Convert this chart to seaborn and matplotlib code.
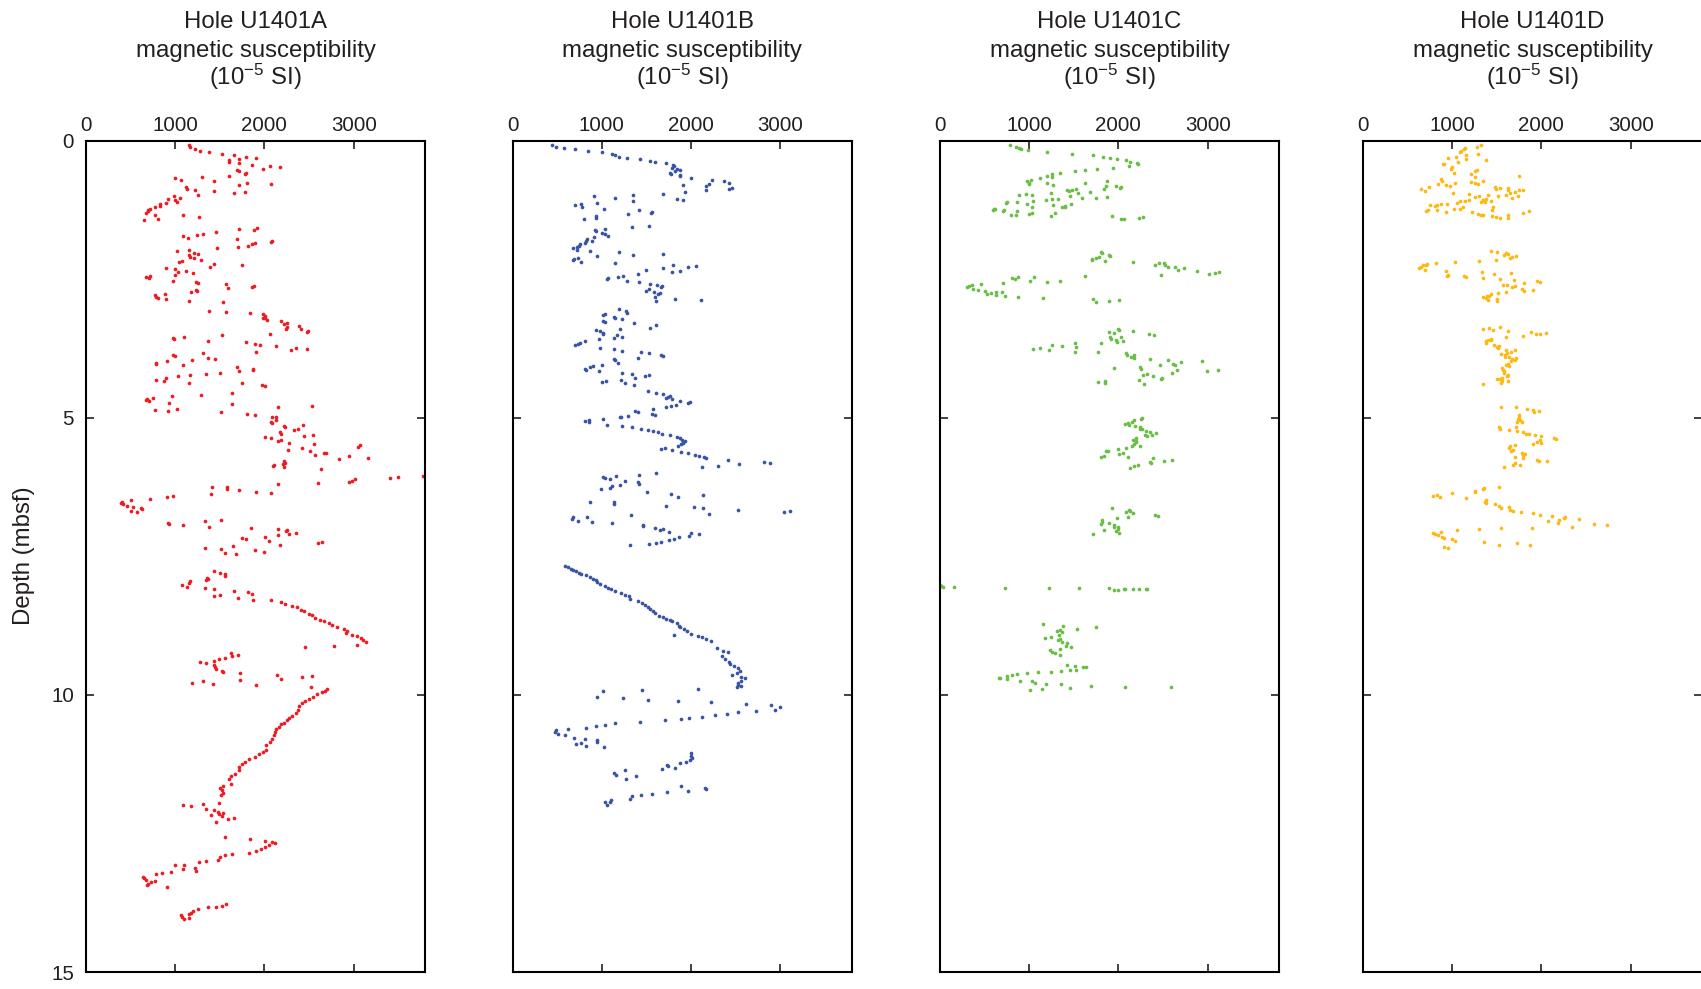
import matplotlib
matplotlib.use("Agg")
import matplotlib.pyplot as plt
import seaborn as sns
import pandas as pd

holes = ["U1401A", "U1401B", "U1401C", "U1401D"]
colors = ["#ED1C24", "#3A54A4", "#6ABD45", "#FDB913"]
xticks = [0, 1000, 2000, 3000]
yticks = [0, 5, 10, 15]
title_lines = ["Hole HOLE", "magnetic susceptibility", "(10$^{-5}$ SI)"]

# (magnetic susceptibility [1e-5 SI], depth [mbsf])
hole_a = [
    (1150,0.08),(1170,0.11),(1220,0.15),(1280,0.18),(1380,0.20),(1520,0.23),(1660,0.25),(1790,0.28),(1900,0.30),
    (1600,0.35),(1600,0.38),(1720,0.33),(1720,0.40),(1860,0.43),(2060,0.45),(2180,0.47),(1980,0.50),(1690,0.53),
    (1710,0.55),(1790,0.58),(1780,0.60),(1600,0.63),(1300,0.65),(1000,0.67),(1060,0.70),(1440,0.73),(1720,0.79),
    (1810,0.75),(2070,0.77),(1120,0.83),(1130,0.86),(1220,0.88),(1440,0.90),(1660,0.94),(1780,0.92),(1260,0.98),
    (1050,1.02),(990,1.00),(920,1.04),(1000,1.07),(1020,1.10),(900,1.12),(830,1.14),(825,1.17),(770,1.20),
    (720,1.23),(700,1.25),(690,1.27),(670,1.30),(770,1.33),(1090,1.34),(1270,1.37),(810,1.40),(650,1.42),
    (1720,1.59),(1920,1.57),(1880,1.61),(1460,1.64),(1310,1.67),(1240,1.69),(1090,1.72),(1140,1.75),(1690,1.77),
    (2080,1.80),(2070,1.82),(1890,1.84),(1860,1.86),(1820,1.89),(1700,1.92),(1470,1.94),(1020,1.99),(1150,1.96),
    (1210,2.02),(1250,2.04),(1160,2.06),(1170,2.09),(1210,2.11),(1290,2.14),(1080,2.16),(1040,2.19),(1440,2.22),
    (1390,2.27),(1750,2.24),(900,2.29),(1000,2.31),(1030,2.37),(1120,2.34),(1200,2.39),(1000,2.42),(720,2.43),
    (710,2.48),(670,2.46),(970,2.52),(1230,2.54),(1260,2.56),(1570,2.58),(1590,2.66),(1880,2.61),(1860,2.63),
    (1230,2.69),(1240,2.71),(1180,2.73),(890,2.76),(770,2.78),(790,2.81),(810,2.84),(900,2.86),(1150,2.89),(1540,2.91),
    (1380,3.06),(1570,3.09),(1840,3.11),(1980,3.13),(2010,3.16),(1980,3.19),(2010,3.20),(2030,3.23),(2190,3.25),
    (2220,3.30),(2250,3.28),(2250,3.36),(2240,3.39),(2390,3.34),(2410,3.40),(2490,3.43),(2480,3.45),(2060,3.48),
    (1520,3.51),(1100,3.54),(970,3.55),(990,3.58),(1370,3.61),(1790,3.63),(1890,3.66),(1950,3.68),(2130,3.70),
    (2350,3.73),(2300,3.78),(2480,3.76),(1900,3.80),(1310,3.83),(970,3.86),(1000,3.88),(1370,3.91),(1450,3.93),
    (1190,3.96),(910,3.98),(790,4.01),(790,4.03),(1090,4.05),(1690,4.08),(1720,4.16),(1870,4.11),(1870,4.13),
    (1500,4.18),(1350,4.20),(1030,4.25),(1170,4.23),(900,4.28),(780,4.31),(870,4.33),(1150,4.36),(1750,4.37),
    (1970,4.40),(2010,4.43),(1640,4.55),(1290,4.58),(960,4.60),(750,4.63),(680,4.65),(670,4.67),(710,4.70),
    (930,4.73),(1640,4.75),(1020,4.83),(770,4.85),(920,4.88),(1510,4.90),(1800,4.92),(1890,4.95),
    (2150,4.80),(2530,4.78),(2080,4.98),(2130,4.99),(2130,5.03),(2070,5.07),(2080,5.09),(2220,5.14),(2230,5.17),
    (2330,5.22),(2380,5.20),(2430,5.13),(2170,5.25),(2190,5.28),(2440,5.32),(2550,5.30),(2010,5.34),(2070,5.37),
    (2190,5.40),(2150,5.42),(2270,5.45),(2560,5.47),(2420,5.55),(2260,5.57),(2510,5.60),(2670,5.63),(2690,5.64),
    (2570,5.67),(2840,5.74),(2950,5.69),(3050,5.52),(3070,5.49),(3160,5.72),(2220,5.77),(2230,5.81),(2210,5.83),
    (2110,5.84),(2100,5.87),(2220,5.89),(2630,5.92),(2600,6.17),(2950,6.15),(2980,6.13),(3010,6.11),(3410,6.08),
    (3500,6.06),(3780,6.04),(2150,6.20),(1410,6.25),(1580,6.24),(1580,6.28),(1710,6.30),(1900,6.33),(2070,6.36),
    (1400,6.38),(970,6.41),(910,6.43),(720,6.46),(500,6.48),(400,6.51),(390,6.53),(410,6.55),(460,6.58),(530,6.60),
    (620,6.63),(630,6.65),(510,6.67),(570,6.70),(920,6.89),(930,6.92),(1090,6.93),(1330,6.86),(1380,6.97),
    (1510,6.84),(1850,6.99),(2150,7.01),(2250,7.02),
    (2240,7.04),(2280,7.09),(2350,7.07),(2150,7.11),(2010,7.14),(2050,7.22),(1750,7.16),(1790,7.19),(2180,7.29),
    (2600,7.26),(2640,7.24),(1330,7.34),(1510,7.37),(1560,7.43),(1650,7.31),(1680,7.46),(1890,7.39),(2000,7.41),
    (1440,7.77),(1500,7.79),(1560,7.82),(1560,7.85),(1360,7.88),(1370,7.91),(1350,7.93),(1170,7.95),(1160,7.97),
    (1080,8.02),(1130,8.05),(1330,8.07),(1440,8.09),(1430,8.22),(1500,8.20),(1660,8.12),(1820,8.14),(1860,8.17),
    (1700,8.25),(1870,8.28),(2070,8.29),(2190,8.32),(2230,8.36),(2310,8.40),(2370,8.42),(2410,8.46),(2440,8.49),
    (2500,8.53),(2530,8.56),(2570,8.61),(2620,8.64),(2670,8.67),(2720,8.70),(2760,8.74),(2810,8.77),(2890,8.81),
    (2930,8.85),(2980,8.91),(3040,8.94),(3080,8.97),(3110,9.01),(3140,9.05),(2910,8.88),(2460,9.13),(2780,9.11),
    (3040,9.09),
    (1280,9.41),(1340,9.43),(1430,9.38),(1490,9.35),(1560,9.33),(1630,9.25),(1640,9.30),(1700,9.28),(1430,9.45),
    (1450,9.50),(1460,9.53),(1530,9.56),(1540,9.58),(1730,9.60),(1730,9.73),(1190,9.78),(1310,9.75),(1420,9.80),
    (1910,9.82),(2140,9.63),(2190,9.71),(2420,9.68),(2530,9.65),(2520,9.85),
    (2700,9.89),(2680,9.92),(2640,9.95),(2590,9.99),(2550,10.03),(2500,10.07),(2450,10.11),(2420,10.15),(2390,10.20),
    (2380,10.27),(2350,10.32),(2310,10.38),(2270,10.41),(2250,10.46),(2220,10.50),(2190,10.53),(2160,10.58),
    (2130,10.62),(2120,10.67),(2110,10.73),(2090,10.80),(2060,10.85),(2020,10.91),(2020,10.99),(1980,11.02),
    (1940,11.06),(1890,11.12),(1830,11.16),(1780,11.21),(1750,11.24),(1720,11.30),(1710,11.36),(1670,11.43),
    (1630,11.47),(1600,11.51),(1620,11.60),(1540,11.65),(1500,11.68),(1520,11.72),(1540,11.76),(1510,11.80),
    (1090,11.99),(1180,12.01),(1310,11.97),(1350,12.05),(1400,12.16),(1430,12.08),(1490,11.95),(1480,12.11),
    (1490,12.15),(1540,12.13),(1460,12.30),(1530,12.19),(1590,12.24),(1660,12.22),
    (1560,12.57),(1840,12.60),(2010,12.63),(2090,12.66),(2120,12.67),(2050,12.71),(2010,12.75),(1960,12.78),
    (1900,12.82),(1830,12.85),(1640,12.87),(1560,12.89),(1500,12.93),(1480,12.97),(1350,12.99),(1270,13.02),
    (1220,13.13),(1230,13.17),(1100,13.06),(1090,13.14),(1000,13.07),(950,13.19),(850,13.22),(780,13.24),
    (770,13.35),(730,13.38),(700,13.41),(680,13.43),(670,13.34),(640,13.29),(650,13.31),(910,13.46),
    (1570,13.78),(1530,13.80),(1460,13.82),(1370,13.83),(1260,13.86),(1200,13.90),(1180,13.93),(1160,13.95),
    (1150,14.03),(1100,14.05),(1070,13.98),(1080,14.00),
]

hole_b = [
    (440,0.08),(490,0.10),(580,0.13),(700,0.15),(840,0.18),(1000,0.20),(1110,0.23),(1150,0.25),(1190,0.28),
    (1280,0.30),(1430,0.33),(1540,0.36),(1600,0.38),(1720,0.40),(1800,0.43),(1810,0.45),(1790,0.48),(1840,0.50),
    (1880,0.52),(1820,0.55),(1760,0.57),(1780,0.60),(1870,0.62),(1880,0.64),(2000,0.67),(1910,0.80),(1930,0.92),
    (1910,1.07),(1840,1.04),(1690,0.95),(2170,0.82),(2170,0.89),(2200,0.77),(2230,0.70),(2370,0.72),(2430,0.75),
    (2420,0.87),(2460,0.85),
    (910,0.99),(1150,1.02),(1350,0.97),(1350,1.09),(700,1.16),(760,1.13),(780,1.19),(940,1.12),(1020,1.22),
    (1290,1.31),(1420,1.24),(1560,1.28),(1550,1.30),(800,1.41),(930,1.36),(930,1.39),(1340,1.56),(1530,1.54),
    (920,1.61),(930,1.63),(1000,1.66),(1040,1.58),(1040,1.68),(1070,1.72),(910,1.73),(830,1.77),(820,1.80),
    (890,1.81),(810,1.84),(750,1.86),(740,1.89),(720,1.92),(680,1.93),(720,1.96),(870,1.98),(1190,2.01),
    (950,2.08),(1350,2.05),(1690,2.04),(690,2.13),(680,2.15),(730,2.11),(760,2.18),(1150,2.20),(1490,2.33),
    (1690,2.30),(1800,2.23),(1790,2.37),(1870,2.35),(1970,2.27),(2060,2.25),(1400,2.40),(1240,2.43),(1180,2.45),
    (1070,2.48),(1060,2.50),(1280,2.52),(1420,2.55),(1540,2.58),(1620,2.60),(1670,2.62),(1660,2.64),(1530,2.67),
    (1490,2.70),(1580,2.72),(1650,2.75),(1630,2.77),(1600,2.82),(1610,2.89),(1820,2.85),(2110,2.87),
    (1190,3.04),(1270,3.07),(1280,3.10),(1030,3.12),(1010,3.14),(1140,3.17),(1150,3.20),(1230,3.22),(1010,3.25),
    (1030,3.27),(1360,3.29),(1610,3.32),(1540,3.37),(1200,3.39),(930,3.41),(980,3.43),(1010,3.47),(1010,3.49),
    (1170,3.51),(1140,3.56),(1220,3.54),(970,3.58),(810,3.61),(750,3.64),(730,3.66),(700,3.69),(980,3.73),
    (1130,3.76),(1220,3.79),(1440,3.81),(1530,3.83),(1660,3.86),(1680,3.88),(1400,3.91),(1130,3.93),(1150,3.96),
    (1180,4.00),(900,4.06),(870,4.08),(810,4.11),(820,4.13),(1000,4.04),(970,4.16),(1220,4.18),(1340,4.21),
    (1370,4.28),(1480,4.25),(1530,4.23),(1000,4.35),(1050,4.33),(1210,4.31),(1260,4.37),(1360,4.40),(1520,4.52),
    (1610,4.55),(1690,4.57),(1760,4.60),(1740,4.62),(1720,4.64),(1790,4.66),(1880,4.70),(1970,4.73),(1990,4.72),
    (1830,4.76),(1780,4.78),(1720,4.81),(1570,4.84),(1370,4.87),(1410,4.89),(1560,4.92),(1590,4.95),(1200,4.98),
    (1290,4.96),
    (810,5.06),(850,5.08),(860,5.04),(1010,5.01),(1060,5.12),(1210,4.99),(1230,5.14),(1340,5.16),(1440,5.19),
    (1520,5.21),(1570,5.23),(1630,5.26),(1670,5.28),(1760,5.31),(1840,5.34),(1880,5.36),(1900,5.39),(1930,5.41),
    (1910,5.45),(1890,5.47),(1850,5.51),(1710,5.54),(1660,5.56),(1790,5.58),(1890,5.61),(1970,5.64),(2040,5.66),
    (2090,5.68),(2140,5.70),(2170,5.73),(2120,5.89),(2300,5.86),(2410,5.76),(2540,5.83),(2820,5.79),(2880,5.81),
    (1010,6.07),(1040,6.09),(1090,6.11),(1160,6.04),(1420,6.02),(1610,5.99),(1260,6.14),(1200,6.21),(1420,6.19),
    (1400,6.16),(1090,6.26),(1110,6.23),(990,6.28),(1500,6.34),(1780,6.37),(1850,6.42),(2130,6.39),
    (870,6.51),(1140,6.51),(1140,6.56),(1720,6.59),(2030,6.60),(2130,6.63),(2200,6.73),(2520,6.66),(3040,6.70),
    (3110,6.68),(670,6.82),(680,6.79),(730,6.86),(830,6.78),(890,6.88),(1110,6.90),(1330,6.75),(1460,6.93),
    (1460,6.95),(1590,6.98),(1650,7.03),(1690,7.01),(1750,7.05),(1320,7.30),(1530,7.28),(1610,7.25),(1660,7.23),
    (1750,7.20),(1810,7.18),(1860,7.15),(1980,7.13),(2000,7.08),(2090,7.10),
    (590,7.67),(620,7.69),(650,7.72),(680,7.74),(710,7.77),(740,7.79),(770,7.81),(820,7.84),(870,7.87),(900,7.90),
    (930,7.93),(950,7.96),(980,7.99),(1040,8.04),(1070,8.07),(1100,8.09),(1150,8.12),(1210,8.16),(1260,8.19),
    (1300,8.22),(1320,8.27),(1400,8.31),(1450,8.34),(1480,8.37),(1520,8.42),(1540,8.45),(1570,8.49),(1600,8.52),
    (1640,8.57),(1680,8.60),(1720,8.62),(1760,8.65),(1790,8.67),(1840,8.70),(1860,8.75),(1880,8.78),(1920,8.81),
    (1950,8.85),(2000,8.89),(2080,8.94),(2120,8.96),(2170,8.99),(2220,9.03),(2290,9.16),(2360,9.20),(2410,9.23),
    (2350,9.29),(2380,9.35),(2420,9.41),(2440,9.44),(2480,9.48),(2530,9.52),(2550,9.56),(2510,9.61),(2460,9.63),
    (2560,9.68),(2600,9.70),(2560,9.74),(2530,9.78),(2520,9.82),(2510,9.86),(2560,9.84),(1810,8.92),
    (940,10.04),(1010,9.93),(1240,10.05),(1450,9.91),(1520,10.09),(1850,10.11),(2080,9.89),(2220,10.13),
    (2610,10.16),(2890,10.18),(2940,10.27),(3000,10.22),(2730,10.29),(2530,10.31),(2400,10.34),(2270,10.36),
    (2120,10.39),(1980,10.41),(1890,10.43),(1710,10.46),(1430,10.49),(1150,10.51),(1030,10.54),(930,10.56),
    (820,10.59),(620,10.61),(490,10.64),(470,10.67),(510,10.71),(590,10.73),(690,10.77),(710,10.89),(760,10.87),
    (810,10.79),(820,10.92),(940,10.81),(950,10.84),(1020,10.94),
    (2000,11.05),(2000,11.10),(2010,11.14),(1990,11.17),(1940,11.21),(1870,11.23),(1820,11.31),(1730,11.26),
    (1740,11.29),(1670,11.34),(1380,11.46),(1260,11.36),(1270,11.51),(1160,11.44),(1130,11.40),(2160,11.68),
    (2170,11.70),(1970,11.73),(1890,11.65),(1730,11.75),(1560,11.78),(1440,11.81),(1340,11.83),(1310,11.87),
    (1100,11.90),(1090,11.94),(1060,11.99),(1040,11.94),
]

hole_c = [
    (790,0.08),(850,0.10),(890,0.13),(910,0.15),(990,0.17),(1200,0.20),(1480,0.23),(1720,0.25),(1830,0.28),
    (1900,0.30),(1980,0.33),(2080,0.35),(2130,0.38),(2210,0.40),(2220,0.42),(2120,0.46),(1940,0.48),(1760,0.50),
    (1620,0.53),(1510,0.55),(1350,0.58),(1250,0.60),(1250,0.65),(1200,0.63),(1120,0.67),(1020,0.70),(970,0.72),
    (1000,0.76),(1000,0.78),(1200,0.76),(1270,0.80),(1630,0.75),(1870,0.73),(1860,0.81),(1970,0.82),(2020,0.84),
    (2030,0.83),(1840,0.86),(1420,0.88),(1450,0.90),(1480,0.89),(1520,0.87),(1550,0.93),(1680,0.92),(1240,0.94),
    (880,0.97),(960,0.96),(1030,0.98),(1460,0.99),(1590,1.03),(1750,1.02),(1870,1.01),(1040,1.08),(1190,1.07),
    (1260,1.05),(1320,1.04),(860,1.10),(750,1.11),(740,1.12),(970,1.13),(1270,1.16),(1370,1.19),(1400,1.17),
    (1470,1.14),(1400,1.19),(1030,1.20),(600,1.23),(590,1.24),(620,1.23),(720,1.24),(710,1.27),(860,1.27),
    (1030,1.30),(1000,1.31),(800,1.33),(850,1.34),(1240,1.35),(1290,1.30),(1930,1.36),(2030,1.40),(2060,1.41),
    (2230,1.39),(2270,1.37),
    (1810,2.01),(1820,2.03),(1780,2.09),(1750,2.11),(1700,2.14),(1850,2.16),(1890,2.05),(1910,2.07),(1700,2.13),
    (2160,2.19),(2410,2.23),(2450,2.21),(2510,2.20),(2520,2.23),(2560,2.27),(2630,2.28),(2670,2.32),(2730,2.30),
    (2480,2.41),(2880,2.35),(3010,2.40),(3080,2.39),(3130,2.36),(1630,2.43),(1340,2.53),(1200,2.55),(1050,2.45),
    (1010,2.52),(870,2.46),(810,2.48),(840,2.49),(710,2.57),(460,2.58),(360,2.60),(320,2.61),(300,2.63),(370,2.67),
    (430,2.69),(510,2.70),(570,2.74),(530,2.77),(630,2.72),(630,2.78),(700,2.73),(730,2.80),(870,2.81),(1150,2.83),
    (1710,2.85),(1750,2.90),(1890,2.88),(2010,2.87),
    (2000,3.39),(2010,3.41),(1890,3.45),(1950,3.47),(2160,3.43),(2340,3.49),(2400,3.51),(1910,3.54),(1920,3.57),
    (1970,3.60),(1980,3.63),(2030,3.54),(2050,3.61),(1800,3.64),(1770,3.81),(1510,3.65),(1520,3.71),(1510,3.80),
    (1370,3.70),(1250,3.68),(1220,3.77),(1120,3.73),(1040,3.75),(2090,3.83),(2100,3.86),(2140,3.89),(2170,3.86),
    (2170,3.92),(2350,3.93),(1950,4.09),(2240,4.08),(2250,4.11),(2560,3.96),(2610,4.03),(2630,4.04),(2700,3.99),
    (2470,4.05),(2940,3.97),(2990,4.16),(3120,4.14),(2660,4.13),(2600,4.19),(2490,4.27),(2480,4.29),(2390,4.24),
    (2320,4.20),(2280,4.22),(2230,4.31),(2290,4.39),(1770,4.35),(1850,4.37),(1850,4.34),
    (2260,5.00),(2250,5.02),(2170,5.04),(2150,5.07),(2110,5.09),(2070,5.11),(2120,5.13),(2190,5.15),(2240,5.17),
    (2260,5.20),(2240,5.19),(2310,5.23),(2350,5.26),(2380,5.30),(2420,5.27),(2300,5.31),(2320,5.33),(2200,5.36),
    (2160,5.39),(2200,5.41),(2200,5.44),(2170,5.47),(2150,5.50),(2240,5.51),(2080,5.54),(2000,5.56),(2010,5.65),
    (2050,5.63),(1880,5.60),(1860,5.59),(1840,5.68),(1800,5.70),(2110,5.71),(2390,5.73),(2350,5.80),(2360,5.82),
    (2510,5.78),(2600,5.76),(2220,5.84),(2170,5.87),(2130,5.90),
    (1930,6.63),(2080,6.70),(2120,6.66),(2130,6.67),(2160,6.72),(2110,6.79),(2410,6.75),(2440,6.76),(1820,6.85),
    (1820,6.87),(1810,6.91),(1890,6.89),(1980,6.81),(1950,6.94),(1950,6.97),(2000,6.96),(1990,7.00),(1970,7.04),
    (2010,7.07),(1840,7.02),(1710,7.09),
    (0,8.02),(10,8.04),(30,8.05),(160,8.05),(730,8.06),(1220,8.06),(1560,8.07),(1890,8.07),(1950,8.10),
    (1990,8.10),(2060,8.09),(2070,8.08),(2160,8.08),(2230,8.08),(2310,8.08),(2320,8.08),
    (1160,8.72),(1380,8.75),(1540,8.80),(1750,8.77),(1310,8.84),(1350,8.82),(1370,8.87),(1330,8.92),(1320,9.01),
    (1340,8.99),(1180,8.97),(1240,8.95),(1370,9.05),(1420,9.07),(1410,9.12),(1470,9.14),(1340,9.17),(1230,9.19),
    (1250,9.23),(1290,9.25),(1340,9.28),(1420,9.45),(1510,9.47),(1530,9.54),(1600,9.50),(1640,9.50),(1460,9.55),
    (1360,9.57),(1240,9.58),(1100,9.59),(970,9.61),(860,9.62),(810,9.64),(750,9.66),(670,9.69),(660,9.70),
    (750,9.72),(900,9.74),(1030,9.75),(1070,9.78),(1190,9.80),(1360,9.81),(1460,9.87),(1690,9.83),(2070,9.86),
    (2590,9.85),(1010,9.91),(1140,9.89),
]

hole_d = [
    (1280,0.10),(1320,0.08),(1140,0.12),(1130,0.15),(1100,0.18),(1090,0.20),(1040,0.28),(1150,0.25),(1290,0.23),
    (950,0.31),(1160,0.33),(1380,0.35),(1060,0.38),(900,0.41),(910,0.42),(1000,0.47),(990,0.50),(1020,0.58),
    (1280,0.53),(1250,0.55),(1210,0.60),(1250,0.65),(1750,0.63),(870,0.68),(880,0.72),(840,0.77),(930,0.79),
    (980,0.81),(1030,0.75),(1210,0.74),(1260,0.76),(1290,0.78),(1350,0.73),(740,0.83),(650,0.87),(690,0.90),
    (1010,0.93),(1190,0.95),(1250,1.01),(1300,1.00),(1350,1.07),(1380,1.04),(1400,0.98),(1480,0.83),(1490,0.86),
    (1540,0.84),(1600,0.98),(1630,0.84),(1620,0.88),(1650,0.93),(1700,0.92),(1750,0.89),(1790,0.89),(1670,1.03),
    (1740,1.00),(750,1.16),(810,1.18),(830,1.16),(870,1.13),(940,1.13),(1050,1.12),(1090,1.08),(1140,1.09),
    (1190,1.06),(1320,1.10),(1340,1.06),(1370,1.10),(1440,1.09),(1510,1.00),(730,1.25),(710,1.27),(830,1.24),
    (930,1.28),(1020,1.23),(1090,1.23),(1120,1.19),(1220,1.28),(1290,1.31),(1320,1.33),(1350,1.34),(1450,1.36),
    (1490,1.37),(1540,1.39),(1450,1.25),(1460,1.20),(1620,1.33),(1620,1.39),(1790,1.30),(1860,1.27),
    (1440,1.98),(1500,2.00),(1580,2.05),(1600,2.02),(1630,2.04),(1650,2.11),(1670,2.10),(1710,2.08),(1490,2.15),
    (1300,2.16),(1030,2.18),(820,2.20),(650,2.28),(630,2.30),(670,2.24),(690,2.33),(710,2.23),(720,2.22),
    (930,2.34),(950,2.41),(940,2.43),(1130,2.43),(1160,2.46),(1330,2.36),(1340,2.48),(1470,2.40),(1540,2.49),
    (1660,2.38),(1690,2.51),(1570,2.60),(1610,2.60),(1600,2.73),(1510,2.75),(1430,2.76),(1410,2.79),(1390,2.80),
    (1340,2.82),(1400,2.87),(1380,2.83),(1500,2.86),(1500,2.88),(1670,2.64),(1700,2.62),(1800,2.57),(1780,2.67),
    (1810,2.71),(1900,2.69),(1950,2.52),(1980,2.55),
    (1350,3.40),(1410,3.37),(1460,3.42),(1540,3.36),(1630,3.43),(1600,3.54),(1790,3.52),(1880,3.45),(1940,3.49),
    (1980,3.48),(2050,3.46),(1380,3.61),(1380,3.64),(1400,3.59),(1430,3.57),(1440,3.60),(1470,3.69),(1500,3.71),
    (1510,3.73),(1520,3.70),(1550,3.84),(1590,3.86),(1610,3.83),(1600,3.78),(1660,3.80),(1700,3.78),(1590,3.89),
    (1640,3.90),(1670,3.93),(1660,3.98),(1700,3.96),(1710,3.92),(1630,4.02),(1600,4.05),(1640,4.06),(1560,4.10),
    (1570,4.13),(1580,4.16),(1580,4.19),(1630,4.22),(1610,4.25),(1560,4.27),(1540,4.30),(1500,4.30),(1560,4.34),
    (1550,4.36),(1630,4.34),(1340,4.39),
    (1550,4.80),(1720,4.81),(1840,4.83),(1900,4.86),(1920,4.89),(1970,4.87),(1750,4.94),(1750,4.98),(1740,5.01),
    (1760,5.04),(1780,5.07),(1730,5.07),(1710,5.16),(1530,5.17),(1540,5.19),(1640,5.22),(1730,5.23),(1790,5.26),
    (1830,5.28),(1860,5.29),(1930,5.31),(2000,5.33),(2140,5.36),(2160,5.38),(1980,5.40),(1950,5.43),(1990,5.45),
    (1910,5.47),(1650,5.50),(1700,5.49),(1640,5.55),(1680,5.57),(1660,5.60),(1780,5.63),(1820,5.65),(1790,5.67),
    (1700,5.70),(1790,5.73),(1950,5.76),(1970,5.78),(2060,5.77),(1680,5.84),(1700,5.82),(1760,5.84),(1580,5.89),
    (1530,6.25),(1360,6.27),(1340,6.29),(1260,6.32),(1260,6.34),(1000,6.36),(1160,6.45),(780,6.41),(830,6.39),
    (860,6.43),(1380,6.48),(1370,6.52),(1380,6.54),(1480,6.55),(1530,6.58),(1550,6.63),(1640,6.60),(1650,6.66),
    (1680,6.68),(1770,6.70),(1910,6.72),(1980,6.75),(2120,6.77),(2070,6.86),(2190,6.89),(2200,6.84),(2250,6.81),
    (2260,6.79),(2340,6.96),(2420,6.83),(2590,6.92),(2740,6.93),(1890,6.98),(1550,6.99),(1300,7.01),(1050,7.03),
    (870,7.05),(780,7.07),(810,7.10),(840,7.11),(880,7.14),(910,7.17),(1000,7.19),(1030,7.22),(1360,7.24),
    (1530,7.30),(1730,7.26),(1870,7.29),(910,7.33),(950,7.35),
]

series = [hole_a, hole_b, hole_c, hole_d]

sns.set_style("ticks")
plt.rcParams["font.family"] = ["Liberation Sans", "DejaVu Sans"]
plt.rcParams["mathtext.fontset"] = "custom"
plt.rcParams["mathtext.rm"] = "Liberation Sans"
plt.rcParams["mathtext.it"] = "Liberation Sans:italic"
plt.rcParams["mathtext.default"] = "regular"

W, H = 1701, 989
TXT = "#231F20"
fig = plt.figure(figsize=(W / 100, H / 100), dpi=100)
lefts = [86, 512.7, 940, 1363]
ax_w, ax_top, ax_bot = 339, 141, 972
title_baselines = [28.5, 57, 85]

for i, (hole, data) in enumerate(zip(holes, series)):
    ax = fig.add_axes([lefts[i] / W, (H - ax_bot) / H, ax_w / W, (ax_bot - ax_top) / H])
    df = pd.DataFrame(data, columns=["ms", "depth"])
    sns.scatterplot(data=df, x="ms", y="depth", ax=ax, color=colors[i], s=7,
                    linewidth=0, legend=False)
    ax.set_xlim(0, 3800)
    ax.set_ylim(15, 0)
    ax.set_xticks(xticks)
    ax.set_yticks(yticks)
    ax.set_xlabel("")
    ax.set_ylabel("")
    ax.tick_params(axis="both", direction="in", length=6, width=1.3, color="#333333",
                   top=True, bottom=True, left=True, right=True,
                   labeltop=True, labelbottom=False, labelright=False,
                   labelleft=(i == 0), labelsize=14.8, labelcolor=TXT)
    ax.tick_params(axis="x", pad=4.3)
    ax.tick_params(axis="y", pad=8.6)
    for sp in ax.spines.values():
        sp.set_visible(True)
        sp.set_linewidth(1.5)
        sp.set_color("black")
    cx = (lefts[i] + ax_w / 2) / W
    for line, yb in zip(title_lines, title_baselines):
        fig.text(cx, 1 - yb / H, line.replace("HOLE", hole), ha="center", va="baseline",
                 fontsize=17.3, color=TXT)

fig.text(24 / W, 1 - 556 / H, "Depth (mbsf)", rotation=90, ha="center", va="center",
         fontsize=17.3, color=TXT)

fig.savefig("out.png", dpi=100)
